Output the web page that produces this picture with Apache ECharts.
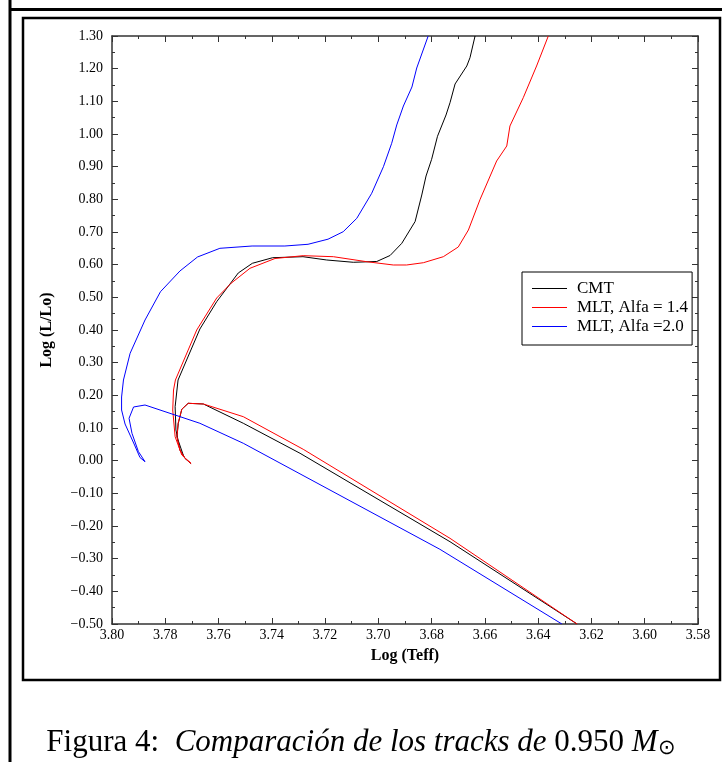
<!DOCTYPE html>
<html>
<head>
<meta charset="utf-8">
<script src="https://cdn.jsdelivr.net/npm/echarts@6/dist/echarts.min.js"></script>
<style>
  html, body { margin: 0; padding: 0; background: #fff; }
  #chart { width: 722px; height: 762px; }
</style>
</head>
<body>
<div id="chart"></div>
<script>
// ejes
var xMin = 3.58, xMax = 3.80, xStep = 0.02;
var yMin = -0.5, yMax = 1.3, yStep = 0.1;

var seriesNames = ['CMT', 'MLT, Alfa = 1.4', 'MLT, Alfa =2.0'];
var seriesColors = ['#000000', '#ff0000', '#0000ff'];

// tracks [log Teff, log L/Lo]
var cmtTrack = [
    [3.6254, -0.50], [3.6731, -0.2481], [3.7294, 0.0226], [3.7507, 0.1144],
    [3.7657, 0.1735], [3.7714, 0.1756], [3.7738, 0.1573], [3.7751, 0.1144],
    [3.7756, 0.0734], [3.7745, 0.0327], [3.7726, 0.0072], [3.7705, -0.0081],
    [3.7730, 0.0112], [3.7752, 0.0633], [3.7760, 0.0939], [3.7763, 0.1652],
    [3.7752, 0.2469], [3.7670, 0.4031], [3.7607, 0.4866], [3.7526, 0.5745],
    [3.7473, 0.6042], [3.7397, 0.6213], [3.7283, 0.6244], [3.7194, 0.6143],
    [3.7094, 0.6073], [3.7006, 0.6097], [3.6956, 0.6281], [3.6912, 0.6654],
    [3.6862, 0.7321], [3.6837, 0.8133], [3.6821, 0.8714], [3.6800, 0.9226],
    [3.6778, 0.9930], [3.6746, 1.0582], [3.6731, 1.0958], [3.6712, 1.1531],
    [3.6668, 1.2082], [3.6656, 1.2336], [3.6637, 1.30]
];
var mlt14Track = [
    [3.6254, -0.50], [3.6731, -0.2377], [3.7282, 0.0348], [3.7507, 0.1346],
    [3.7657, 0.1735], [3.7714, 0.1756], [3.7738, 0.1573], [3.7752, 0.1144],
    [3.7756, 0.0734], [3.7745, 0.0327], [3.7726, 0.0072], [3.7703, -0.0087],
    [3.7738, 0.0174], [3.7763, 0.0734], [3.7772, 0.1551], [3.7769, 0.2163],
    [3.7762, 0.2469], [3.7682, 0.4000], [3.7607, 0.4980],
    [3.7553, 0.5430], [3.7482, 0.5889], [3.7388, 0.6189], [3.7282, 0.6275],
    [3.7169, 0.6244], [3.7044, 0.6091], [3.6944, 0.5990], [3.6894, 0.5990],
    [3.6831, 0.6060], [3.6756, 0.6244], [3.6700, 0.6541], [3.6662, 0.7061],
    [3.6618, 0.8001], [3.6556, 0.9173], [3.6518, 0.9633], [3.6506, 1.0245],
    [3.6456, 1.1111], [3.6406, 1.2082], [3.6362, 1.30]
];
var mlt20Track = [
    [3.6311, -0.50], [3.6769, -0.2713], [3.7507, 0.0532], [3.7670, 0.1144],
    [3.7876, 0.1704], [3.7919, 0.1643], [3.7936, 0.1297], [3.7925, 0.0838],
    [3.7901, 0.0281], [3.7876, -0.0032], [3.7895, 0.0097], [3.7917, 0.0510],
    [3.7951, 0.1122], [3.7964, 0.1551], [3.7964, 0.1949], [3.7957, 0.2469],
    [3.7932, 0.3287], [3.7876, 0.4306], [3.7818, 0.5172], [3.7745, 0.5806],
    [3.7679, 0.6235], [3.7595, 0.6501], [3.7474, 0.6571], [3.7351, 0.6571],
    [3.7264, 0.6624], [3.7189, 0.6780], [3.7132, 0.7009], [3.7081, 0.7419],
    [3.7025, 0.8185], [3.6981, 0.8999], [3.6950, 0.9715], [3.6931, 1.0276],
    [3.6906, 1.0857], [3.6874, 1.1439], [3.6856, 1.2020], [3.6813, 1.30]
];
var tracks = [cmtTrack, mlt14Track, mlt20Track];

var serif = 'Liberation Serif';

function fmt(v) {
    var s = v.toFixed(2);
    if (s === '-0.00') s = '0.00';
    return s.replace('-', '\u2212');
}

var chart = echarts.init(document.getElementById('chart'), null, {renderer: 'canvas'});

var axisCommon = {
    axisLine: {show: true, onZero: false, lineStyle: {color: '#333', width: 1.5}},
    axisTick: {show: true, inside: true, length: 6, lineStyle: {color: '#333', width: 1}},
    minorTick: {show: true, splitNumber: 2, length: 3, lineStyle: {color: '#333', width: 1}},
    splitLine: {show: false}
};

var option = {
    backgroundColor: '#fff',
    animation: false,
    grid: {left: 112, right: 24, top: 36, bottom: 138},
    xAxis: [
        Object.assign({
            type: 'value', min: xMin, max: xMax, interval: xStep, inverse: true,
            position: 'bottom',
            name: 'Log (Teff)', nameLocation: 'middle', nameGap: 24,
            nameTextStyle: {fontFamily: serif, fontWeight: 'bold', fontSize: 16, color: '#000'},
            axisLabel: {fontFamily: serif, fontSize: 14, color: '#000', margin: 4, formatter: fmt}
        }, axisCommon),
        Object.assign({
            type: 'value', min: xMin, max: xMax, interval: xStep, inverse: true,
            position: 'top', axisLabel: {show: false}
        }, axisCommon)
    ],
    yAxis: [
        Object.assign({
            type: 'value', min: yMin, max: yMax, interval: yStep,
            position: 'left',
            name: 'Log (L/Lo)', nameLocation: 'middle', nameGap: 57,
            nameTextStyle: {fontFamily: serif, fontWeight: 'bold', fontSize: 16, color: '#000'},
            axisLabel: {fontFamily: serif, fontSize: 14, color: '#000', margin: 9, formatter: fmt}
        }, axisCommon),
        Object.assign({
            type: 'value', min: yMin, max: yMax, interval: yStep,
            position: 'right', axisLabel: {show: false}
        }, axisCommon)
    ],
    legend: {
        orient: 'vertical', left: 522, top: 272,
        padding: [7, 4, 9, 10], itemGap: 0,
        itemWidth: 35, itemHeight: 1.2, icon: 'rect',
        backgroundColor: '#fff', borderColor: '#000', borderWidth: 1,
        textStyle: {fontFamily: serif, fontSize: 17, lineHeight: 19, color: '#000', padding: [0, 0, 0, 5]},
        data: seriesNames
    },
    series: tracks.map(function (t, i) {
        return {
            name: seriesNames[i], type: 'line', data: t,
            symbol: 'none', smooth: false,
            lineStyle: {color: seriesColors[i], width: 1},
            itemStyle: {color: seriesColors[i]}
        };
    }),
    graphic: [
        // marcos
        {type: 'line', shape: {x1: 10, y1: 0, x2: 10, y2: 762}, style: {stroke: '#000', lineWidth: 3}},
        {type: 'line', shape: {x1: 10, y1: 9.5, x2: 722, y2: 9.5}, style: {stroke: '#000', lineWidth: 3}},
        {type: 'rect', shape: {x: 23, y: 18, width: 697, height: 662}, style: {fill: 'none', stroke: '#000', lineWidth: 2.5}},
        {
            type: 'text', left: 'center', top: 727,
            style: {
                text: '{r|Figura 4:  }{i|Comparación de los tracks de }{r|0.950 }{i|M}{s|⊙}',
                rich: {
                    r: {fontFamily: serif, fontSize: 31, fill: '#000'},
                    i: {fontFamily: serif, fontSize: 31, fontStyle: 'italic', fill: '#000'},
                    s: {fontFamily: serif, fontSize: 21, fill: '#000', verticalAlign: 'bottom', padding: [12, 0, 0, 0]}
                }
            }
        }
    ]
};

chart.setOption(option);
</script>
</body>
</html>
